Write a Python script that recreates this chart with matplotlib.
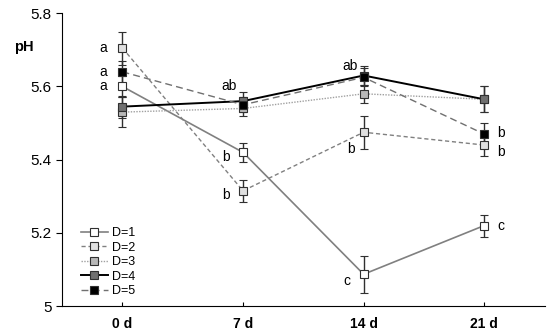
import numpy as np
import matplotlib
matplotlib.use("Agg")
import matplotlib.pyplot as plt
from matplotlib.lines import Line2D

plt.rcParams["font.family"] = ["Liberation Sans", "DejaVu Sans"]

days = ["0 d", "7 d", "14 d", "21 d"]
labels = ["D=1", "D=2", "D=3", "D=4", "D=5"]

ph_d1 = [5.60, 5.42, 5.087, 5.22]
ph_d2 = [5.705, 5.315, 5.475, 5.44]
ph_d3 = [5.53, 5.54, 5.58, 5.565]
ph_d4 = [5.545, 5.56, 5.63, 5.565]
ph_d5 = [5.64, 5.55, 5.625, 5.47]

err_d1 = [0.03, 0.025, 0.05, 0.03]
err_d2 = [0.045, 0.03, 0.045, 0.03]
err_d3 = [0.04, 0.02, 0.025, 0.035]
err_d4 = [0.03, 0.025, 0.025, 0.035]
err_d5 = [0.03, 0.02, 0.025, 0.03]

# significance letters: (day index, value, text, dx, dy)
letters = [
    (0, 5.705, "a", -14, 0), (0, 5.64, "a", -14, 0), (0, 5.60, "a", -14, 0),
    (1, 5.60, "ab", -10, 0), (1, 5.42, "b", -12, -3), (1, 5.315, "b", -12, -3),
    (2, 5.655, "ab", -10, 0), (2, 5.475, "b", -9, -12), (2, 5.087, "c", -12, -5),
    (3, 5.47, "b", 12, 1), (3, 5.44, "b", 12, -5), (3, 5.22, "c", 12, 0),
]

series = [ph_d1, ph_d2, ph_d3, ph_d4, ph_d5]
errs = [err_d1, err_d2, err_d3, err_d4, err_d5]
styles = [
    dict(color="#808080", ls="-", mfc="white", lw=1.2),
    dict(color="#808080", ls=(0, (3, 2)), mfc="#e0e0e0", lw=1.0),
    dict(color="#a0a0a0", ls=(0, (1, 1)), mfc="#b8b8b8", lw=1.0),
    dict(color="black", ls="-", mfc="#707070", lw=1.4),
    dict(color="#707070", ls=(0, (5, 3)), mfc="black", lw=1.0),
]

fig, ax = plt.subplots(figsize=(5.5, 3.32), dpi=100)
fig.subplots_adjust(left=0.113, right=0.99, top=0.96, bottom=0.078)

x = np.arange(len(days))
handles = []
for y, e, lab, st in zip(series, errs, labels, styles):
    ax.errorbar(x, y, yerr=e, color=st["color"], ls=st["ls"], lw=st["lw"],
                marker="s", ms=6, mfc=st["mfc"], mec="#303030", mew=0.8,
                ecolor="#303030", elinewidth=1.0, capsize=3)
    handles.append(Line2D([], [], color=st["color"], ls=st["ls"], lw=st["lw"],
                          marker="s", ms=6, mfc=st["mfc"], mec="#303030",
                          mew=0.8, label=lab))

for i, v, t, dx, dy in letters:
    ax.annotate(t, (x[i], v), xytext=(dx, dy), textcoords="offset points",
                ha="center", va="center", fontsize=10)

ax.set_xlim(-0.5, 3.5)
ax.set_ylim(5.0, 5.8)
ax.set_yticks([5.0, 5.2, 5.4, 5.6, 5.8])
ax.set_yticklabels(["5", "5.2", "5.4", "5.6", "5.8"], fontsize=11)
ax.set_xticks(x)
ax.set_xticklabels(days, fontsize=10, fontweight="bold")
ax.tick_params(axis="x", length=3, direction="in", pad=8)
ax.tick_params(axis="y", length=4, direction="out")
for s in ["top", "right"]:
    ax.spines[s].set_visible(False)

fig.text(0.025, 0.845, "pH", fontsize=10.5, fontweight="bold")

ax.legend(handles=handles, loc="lower left", bbox_to_anchor=(0.02, 0.0),
          frameon=False, fontsize=9, handlelength=2.2, labelspacing=0.2,
          borderaxespad=0.3, handletextpad=0.3)

fig.savefig("out.png", dpi=100)
